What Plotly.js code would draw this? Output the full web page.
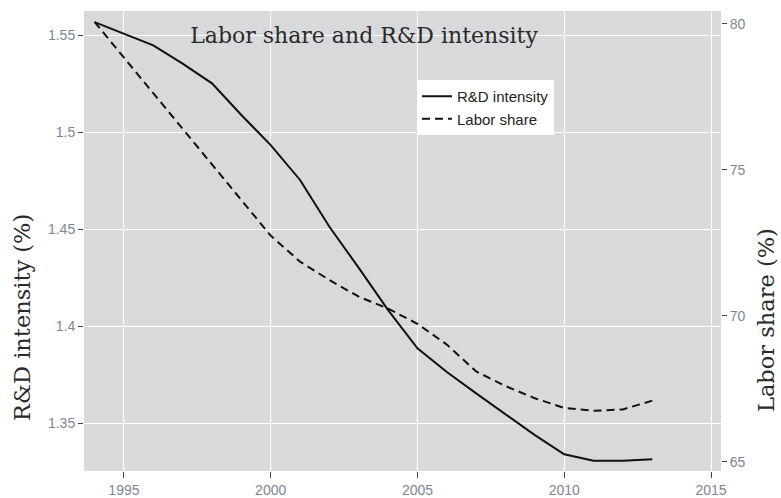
<!DOCTYPE html>
<html>
<head>
<meta charset="utf-8">
<script src="https://cdn.plot.ly/plotly-3.0.1.min.js"></script>
<style>html,body{margin:0;padding:0;background:#fff;}#chart{width:781px;height:498px;}</style>
</head>
<body>
<div id="chart"></div>
<script>
const years = [1994,1995,1996,1997,1998,1999,2000,2001,2002,2003,2004,2005,2006,2007,2008,2009,2010,2011,2012,2013];
const rdIntensity = [1.5567,1.5508,1.5447,1.5353,1.5251,1.5088,1.4933,1.4753,1.4512,1.4300,1.4082,1.3885,1.3763,1.3653,1.3546,1.3438,1.3339,1.3306,1.3306,1.3313];
const laborShare = [80.07,78.85,77.63,76.41,75.19,73.97,72.75,71.86,71.23,70.66,70.25,69.73,69.02,68.10,67.60,67.18,66.85,66.75,66.80,67.10];
const xTicks = [1995,2000,2005,2010,2015];
const yLeftTicks = [1.35,1.40,1.45,1.50,1.55];
const yLeftLabels = ['1.35','1.4','1.45','1.5','1.55'];
const yRightTicks = [65,70,75,80];
const yRightLabels = ['65','70','75','80'];

const tickFont = {family: 'Liberation Sans, Arial, sans-serif', size: 14, color: '#7d8596'};
const serif = 'DejaVu Serif, serif';

const traces = [
  {x: years, y: rdIntensity, name: 'R&D intensity', type: 'scatter', mode: 'lines',
   line: {color: '#111', width: 2}, yaxis: 'y'},
  {x: years, y: laborShare, name: 'Labor share', type: 'scatter', mode: 'lines',
   line: {color: '#111', width: 2, dash: '8px,5px'}, yaxis: 'y2'}
];

const layout = {
  width: 781, height: 498,
  margin: {l: 84, r: 60, t: 11, b: 27, pad: 0},
  paper_bgcolor: '#ffffff',
  plot_bgcolor: '#d8d9db',
  showlegend: true,
  title: {text: 'Labor share and R&D intensity', x: 364/781, xanchor: 'center', xref: 'container',
          y: 1 - 35/498, yanchor: 'middle', yref: 'container',
          font: {family: serif, size: 22, color: '#2a2a2a'}},
  xaxis: {range: [1993.64, 2015.34], tickmode: 'array', tickvals: xTicks, ticktext: xTicks.map(String),
          ticks: 'outside', ticklen: 6, tickwidth: 1, tickcolor: '#444',
          showgrid: true, gridcolor: '#ffffff', gridwidth: 1, zeroline: false, showline: false,
          tickfont: tickFont},
  yaxis: {range: [1.3253, 1.5624], tickmode: 'array', tickvals: yLeftTicks, ticktext: yLeftLabels,
          ticks: 'outside', ticklen: 5, tickwidth: 1, tickcolor: '#444',
          showgrid: true, gridcolor: '#ffffff', gridwidth: 1, zeroline: false, showline: false,
          tickfont: tickFont},
  yaxis2: {range: [64.69, 80.445], overlaying: 'y', side: 'right', tickmode: 'array',
           tickvals: yRightTicks, ticktext: yRightLabels,
           ticks: 'outside', ticklen: 5, tickwidth: 1, tickcolor: '#444',
           showgrid: false, zeroline: false, showline: false, tickfont: tickFont},
  legend: {x: (417-84)/637, xanchor: 'left', y: (471-80)/460, yanchor: 'top',
           bgcolor: '#ffffff', borderwidth: 0,
           font: {family: 'Liberation Sans, Arial, sans-serif', size: 15, color: '#222'}},
  annotations: [
    {text: 'R&D intensity (%)', xref: 'paper', yref: 'paper', x: (22-84)/637, y: (471-318)/460,
     textangle: -90, showarrow: false, xanchor: 'center', yanchor: 'middle',
     font: {family: serif, size: 22.5, color: '#2a2a2a'}},
    {text: 'Labor share (%)', xref: 'paper', yref: 'paper', x: (766-84)/637, y: (471-320)/460,
     textangle: -90, showarrow: false, xanchor: 'center', yanchor: 'middle',
     font: {family: serif, size: 22.5, color: '#2a2a2a'}}
  ]
};

Plotly.newPlot('chart', traces, layout, {displayModeBar: false, staticPlot: true});
</script>
</body>
</html>
